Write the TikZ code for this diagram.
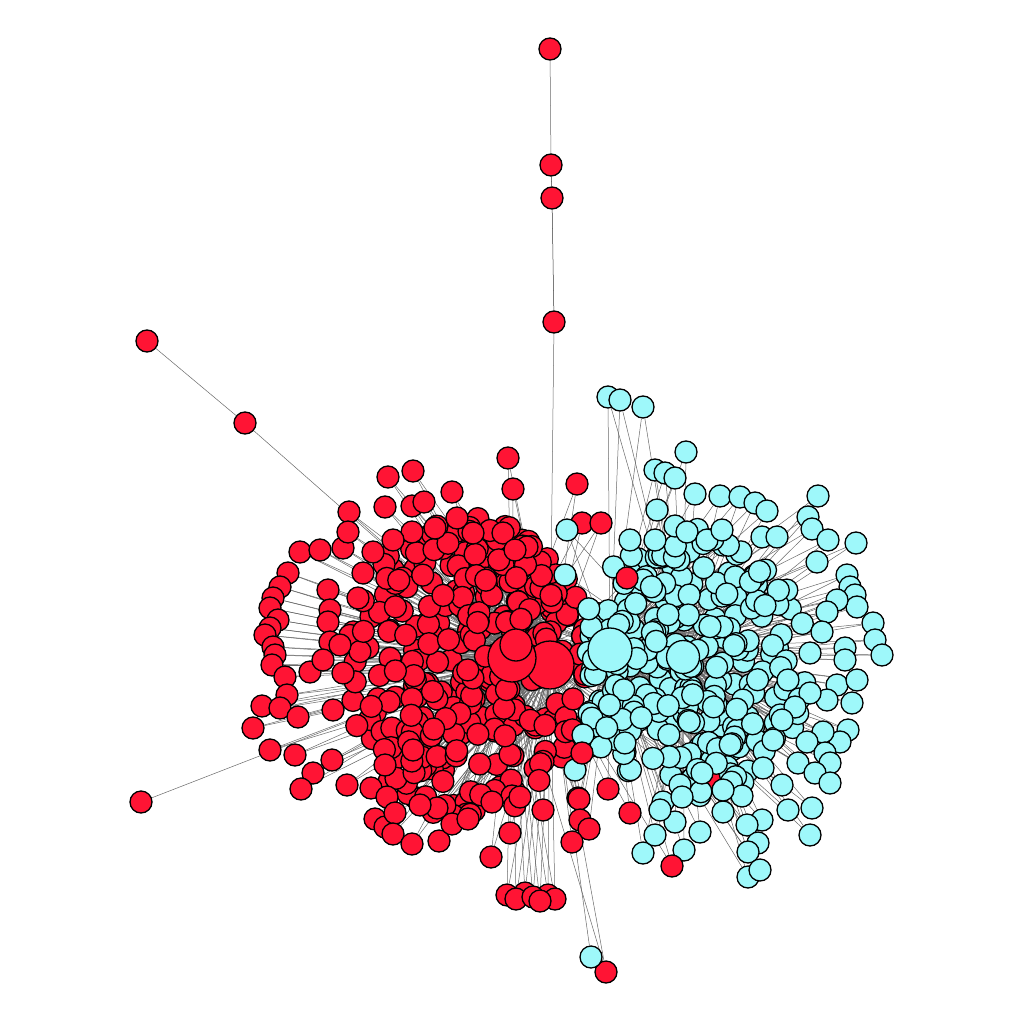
\documentclass[tikz,border=0pt]{standalone}
\pgfdeclarelayer{bglayer}
\pgfdeclarelayer{edgelayer}
\pgfdeclarelayer{toplayer}
\pgfsetlayers{bglayer,edgelayer,main,toplayer}
\definecolor{redfill}{RGB}{255,20,52}
\definecolor{cyanfill}{RGB}{158,248,250}
\definecolor{edgegray}{RGB}{105,105,105}
\tikzset{
  basenode/.style={circle,draw=black,line width=1.3pt,inner sep=0pt,minimum size=22pt},
  rn/.style={basenode,fill=redfill},
  cn/.style={basenode,fill=cyanfill},
  lnk/.style={draw=edgegray,line width=0.5pt},
}
\begin{document}
\begin{tikzpicture}[x=1pt,y=-1pt]
\begin{pgfonlayer}{bglayer}
\fill[white] (0,0) rectangle (1024,1024);
\end{pgfonlayer}
\useasboundingbox (0,0) rectangle (1024,1024);
% hubs
\begin{pgfonlayer}{toplayer}
\node[rn,minimum size=48pt] (hr2) at (550,665) {};
\node[rn,minimum size=48pt] (hr1) at (512,658) {};
\node[rn,minimum size=32pt] (hr3) at (516,645) {};
\node[cn,minimum size=44pt] (hc1) at (610,650) {};
\node[cn,minimum size=33pt] (hc2) at (683,657) {};
\end{pgfonlayer}
% random red core
\pgfmathsetseed{4711}
\foreach \i in {1,...,330}{
  \pgfmathsetmacro{\ang}{360*rnd}
  \pgfmathsetmacro{\rr}{rnd^0.55}
  \pgfmathsetmacro{\px}{467+125*\rr*cos(\ang)}
  \pgfmathsetmacro{\py}{668+150*\rr*sin(\ang)}
  \pgfmathsetmacro{\px}{\px>585 ? 1170-\px : \px}
  \node[rn] (r\i) at (\px,\py) {};
}
% red periphery
\foreach \x/\y [count=\k] in {300/552, 320/550, 343/548, 288/573, 280/587, 273/598, 270/608,
  278/620, 270/628, 265/635, 273/647, 275/655, 272/665, 285/677, 287/695, 310/672,
  262/706, 280/708, 298/717, 253/728, 270/750, 295/755, 328/590, 330/610, 328/622,
  330/642, 340/645, 333/710, 323/660, 343/673, 358/598, 363/573,
  508/458, 513/489, 388/477, 413/471, 385/507, 412/506, 424/502, 452/492, 349/512,
  348/532, 457/518, 435/528, 412/532, 393/540, 473/533, 503/533, 527/547, 515/550,
  373/552, 577/484, 582/523, 601/523,
  332/760, 313/773, 301/789, 347/785, 371/788, 387/797, 375/819, 385/827, 395/813,
  393/834, 412/844, 439/841, 452/824, 468/819, 491/857, 437/808, 420/805, 413/750,
  385/765, 492/802, 510/833, 543/810, 520/797, 578/798,
  507/895, 525/893, 548/895, 516/899, 533/897, 555/899, 540/901, 606/972, 717/779}{
  \node[rn] (pr\k) at (\x,\y) {};
  \xdef\nred{\k}
}
% chains
\node[rn] (a1) at (550,49) {};
\node[rn] (a2) at (551,165) {};
\node[rn] (a3) at (552,198) {};
\node[rn] (a4) at (554,322) {};
\node[rn] (b1) at (147,341) {};
\node[rn] (b2) at (245,423) {};
\node[rn] (e1) at (141,802) {};
% random cyan core
\pgfmathsetseed{2024}
\foreach \i in {1,...,280}{
  \pgfmathsetmacro{\ang}{360*rnd}
  \pgfmathsetmacro{\rr}{rnd^0.55}
  \pgfmathsetmacro{\px}{690+118*\rr*cos(\ang)}
  \pgfmathsetmacro{\py}{662+135*\rr*sin(\ang)}
  \pgfmathsetmacro{\px}{\px<588 ? 1176-\px : \px}
  \node[cn] (cc\i) at (\px,\py) {};
}
% cyan periphery
\foreach \x/\y [count=\k] in {608/397, 620/400, 643/407, 686/452, 655/470, 665/473, 675/478,
  695/494, 720/496, 740/497, 755/503, 767/511, 818/496, 808/517, 812/529, 828/540,
  856/543, 657/510, 675/526, 687/532, 707/540, 722/530, 762/537, 777/537, 817/562,
  567/530, 630/540, 655/540,
  847/575, 850/587, 855/595, 857/607, 837/600, 827/612, 873/623, 875/640, 882/655,
  822/632, 845/648, 845/660, 810/653, 788/680, 837/685, 857/680, 827/700, 852/703,
  810/693, 795/707, 848/730, 840/742, 823/732, 807/742, 782/720, 773/740, 798/763,
  825/753, 830/763, 815/773, 830/783, 782/785, 812/808, 788/810,
  643/853, 655/835, 675/822, 684/850, 700/832, 723/812, 742/796, 762/820, 747/825,
  758/843, 748/852, 748/877, 760/870, 810/835, 763/768, 702/773, 680/785, 663/802,
  682/797, 723/790, 660/810, 565/575, 583/735, 575/770}{
  \node[cn] (pc\k) at (\x,\y) {};
  \xdef\ncyan{\k}
}
\node[cn] (d1) at (591,957) {};
% red nodes among cyan
\foreach \x/\y [count=\k] in {582/753, 608/789, 579/799, 580/820, 589/829, 572/842,
  630/813, 672/866, 627/578}{
  \node[rn] (qr\k) at (\x,\y) {};
  \xdef\nqr{\k}
}
% all connectors, behind the nodes
\begin{pgfonlayer}{edgelayer}
\foreach \i in {1,...,330}{
  \pgfmathtruncatemacro{\h}{mod(\i,9)<4 ? 1 : 2}
  \draw[lnk] (r\i) -- (hr\h);
  \pgfmathtruncatemacro{\z}{mod(\i,7)}
  \ifnum\z=0 \draw[lnk] (r\i) -- (hc1); \fi
}
\foreach \k in {1,...,\nred}{
  \draw[lnk] (pr\k) -- (hr1);
  \draw[lnk] (pr\k) -- (hr2);
}
\draw[lnk] (a1) -- (a2);
\draw[lnk,draw=black!80] (a2) -- (a3);
\draw[lnk,draw=black!80] (a3) -- (a4);
\draw[lnk] (a4) -- (hr2);
\draw[lnk] (b1) -- (b2);
\draw[lnk] (b2) -- (hr1);
\draw[lnk] (e1) -- (hr1);
\foreach \i in {1,...,280}{
  \pgfmathtruncatemacro{\h}{mod(\i,2)+1}
  \draw[lnk] (cc\i) -- (hc\h);
  \pgfmathtruncatemacro{\z}{mod(\i,7)}
  \ifnum\z=0 \draw[lnk] (cc\i) -- (hr2); \fi
}
\foreach \k in {1,...,\ncyan}{
  \draw[lnk] (pc\k) -- (hc1);
  \draw[lnk] (pc\k) -- (hc2);
}
\draw[lnk] (d1) -- (hr2);
\foreach \k in {1,...,\nqr}{
  \draw[lnk] (qr\k) -- (hr2);
  \draw[lnk] (qr\k) -- (hc1);
}
\end{pgfonlayer}
\end{tikzpicture}
\end{document}
